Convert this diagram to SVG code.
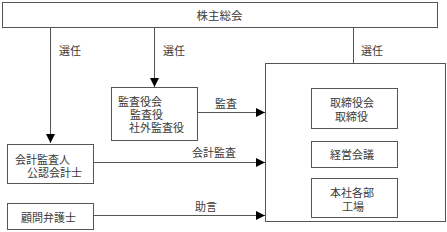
<svg xmlns="http://www.w3.org/2000/svg" width="447" height="232" viewBox="0 0 447 232">
<style>
.box{fill:#fff;stroke:#555;stroke-width:1}
.ln{fill:none;stroke:#555;stroke-width:1}
text{font-family:"Noto Sans CJK JP","Noto Sans",sans-serif;font-size:11px;fill:#3a3a3a;dominant-baseline:central}
</style>
<defs>
<marker id="ah" viewBox="0 0 10 10" refX="10" refY="5" markerWidth="9" markerHeight="9" markerUnits="userSpaceOnUse" orient="auto">
<path d="M0,0 L10,5 L0,10 Z" fill="#000"/>
</marker>
</defs>
<rect width="447" height="232" fill="#fff"/>
<g id="connectors">
<line class="ln" x1="50.5" y1="28" x2="50.5" y2="143" marker-end="url(#ah)"/>
<line class="ln" x1="154.5" y1="28" x2="154.5" y2="87" marker-end="url(#ah)"/>
<line class="ln" x1="353.5" y1="28" x2="353.5" y2="88" marker-end="url(#ah)"/>
<line class="ln" x1="197" y1="112.5" x2="265" y2="112.5" marker-end="url(#ah)"/>
<line class="ln" x1="94" y1="162.5" x2="265" y2="162.5" marker-end="url(#ah)"/>
<line class="ln" x1="94" y1="215.5" x2="265" y2="215.5" marker-end="url(#ah)"/>
<line class="ln" x1="353.5" y1="128" x2="353.5" y2="141"/>
<line class="ln" x1="353.5" y1="167" x2="353.5" y2="178"/>
<text x="59" y="50">選任</text>
<text x="163" y="50">選任</text>
<text x="361" y="50">選任</text>
<text x="215" y="103">監査</text>
<text x="192" y="152">会計監査</text>
<text x="195" y="206">助言</text>
</g>
<g id="shareholders">
<rect class="box" x="2.5" y="2.5" width="435" height="25"/>
<text x="219.5" y="15" text-anchor="middle" style="font-size:11.5px">株主総会</text>
</g>
<g id="company">
<rect class="box" x="265.5" y="63.5" width="180" height="158"/>
</g>
<g id="auditors">
<rect class="box" x="111.5" y="87.5" width="86" height="53"/>
<text x="118" y="101">監査役会</text>
<text x="130" y="114">監査役</text>
<text x="129" y="127">社外監査役</text>
</g>
<g id="accounting">
<rect class="box" x="7.5" y="144.5" width="86" height="39"/>
<text x="15" y="158.5">会計監査人</text>
<text x="27" y="172">公認会計士</text>
</g>
<g id="lawyer">
<rect class="box" x="7.5" y="203.5" width="86" height="26"/>
<text x="21" y="216.5">顧問弁護士</text>
</g>
<g id="board">
<rect class="box" x="311.5" y="88.5" width="86" height="40"/>
<text x="330" y="101.5">取締役会</text>
<text x="335" y="115.5">取締役</text>
</g>
<g id="mgmt">
<rect class="box" x="311.5" y="141.5" width="86" height="26"/>
<text x="330" y="154">経営会議</text>
</g>
<g id="depts">
<rect class="box" x="311.5" y="178.5" width="86" height="39"/>
<text x="330" y="191.5">本社各部</text>
<text x="342" y="205.5">工場</text>
</g>
</svg>
